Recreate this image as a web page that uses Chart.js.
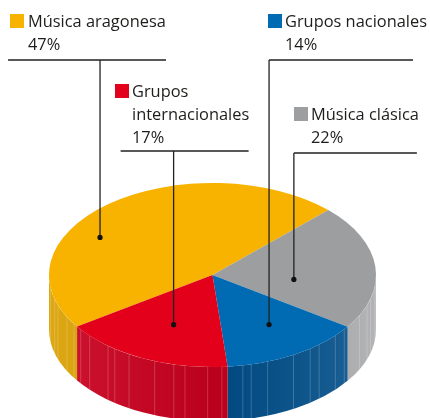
<!DOCTYPE html>
<html>
<head>
<meta charset="utf-8">
<script src="https://cdn.jsdelivr.net/npm/chart.js@4.4.1/dist/chart.umd.min.js"></script>
<style>
  html, body { margin: 0; padding: 0; background: #fff; }
  #wrap { width: 430px; height: 418px; }
</style>
</head>
<body>
<div id="wrap"><canvas id="myChart"></canvas></div>
<script>
// data
const labels = ['Música aragonesa', 'Música clásica', 'Grupos nacionales', 'Grupos internacionales'];
const values = [47, 22, 14, 17];
const topColors = ['#F8B200', '#9D9E9F', '#006AB3', '#E2001A'];
const sideColors = ['#DAA000', '#A8A9AB', '#004F8B', '#CA001E'];

// 3d look
const TILT = 0.563, DEPTH = 54, CENTER_Y = 275;
const TEXT = '#1d1d1b';
const FONT = '16.4px "Open Sans", sans-serif';

// callout layout, same order as labels
const callouts = [
  { sq: [10, 14], tx: 28, base: 27, lineY: 60, left: -92, right: 66, along: 0.383, rad: 0.80, wrap: false },
  { sq: [294, 107], tx: 311, base: 120, lineY: 153, left: 0, right: 123, along: 0.636, rad: 0.50, wrap: false },
  { sq: [268, 14], tx: 285, base: 27, lineY: 60, left: 0, right: 144, along: 0.456, rad: 0.64, wrap: false },
  { sq: [115, 84], tx: 132, base: 97, lineY: 151, left: -53, right: 75, along: 0.475, rad: 0.59, wrap: true }
];

const stripeSteps = [5, 8, 4, 7, 10, 6, 3, 9];

const pie3d = {
  id: 'pie3d',
  beforeDatasetsDraw(chart) {
    const ctx = chart.ctx;
    const arcs = chart.getDatasetMeta(0).data;
    const cx = arcs[0].x, r = arcs[0].outerRadius, ry = r * TILT;
    arcs.forEach((arc, i) => {
      for (let k = 0; k <= 1; k++) {
        const a0 = Math.max(arc.startAngle, k * 2 * Math.PI);
        const a1 = Math.min(arc.endAngle, k * 2 * Math.PI + Math.PI);
        if (a1 <= a0) continue;
        ctx.save();
        ctx.beginPath();
        ctx.ellipse(cx, CENTER_Y, r, ry, 0, a0, a1);
        ctx.ellipse(cx, CENTER_Y + DEPTH, r, ry, 0, a1, a0, true);
        ctx.closePath();
        ctx.fillStyle = sideColors[i];
        ctx.fill();
        ctx.clip();
        const g = ctx.createLinearGradient(cx - r, 0, cx + r, 0);
        g.addColorStop(0, 'rgba(255,255,255,0.08)');
        g.addColorStop(0.5, 'rgba(0,0,0,0.08)');
        g.addColorStop(1, 'rgba(255,255,255,0.12)');
        ctx.fillStyle = g;
        ctx.fillRect(cx - r, CENTER_Y - ry, 2 * r, 2 * ry + DEPTH);
        // thin light stripes
        ctx.strokeStyle = 'rgba(255,255,255,0.25)';
        ctx.lineWidth = 0.8;
        let t = a0 + 2 * Math.PI / 180, s = 0;
        while (t < a1) {
          const x = cx + r * Math.cos(t), y = CENTER_Y + ry * Math.sin(t);
          ctx.beginPath();
          ctx.moveTo(x, y);
          ctx.lineTo(x, y + DEPTH + 2);
          ctx.stroke();
          t += stripeSteps[s % stripeSteps.length] * Math.PI / 180;
          s++;
        }
        ctx.restore();
      }
    });
    // squash the top face
    ctx.save();
    ctx.translate(0, CENTER_Y);
    ctx.scale(1, TILT);
    ctx.translate(0, -arcs[0].y);
  },
  afterDatasetsDraw(chart) {
    const ctx = chart.ctx;
    ctx.restore();
    const arcs = chart.getDatasetMeta(0).data;
    const cx = arcs[0].x, r = arcs[0].outerRadius;
    ctx.save();
    ctx.font = FONT;
    ctx.textBaseline = 'alphabetic';
    callouts.forEach((c, i) => {
      const arc = arcs[i];
      const t = arc.startAngle + c.along * (arc.endAngle - arc.startAngle);
      const rr = c.rad * r;
      const dx = cx + rr * Math.cos(t);
      const dy = CENTER_Y + rr * TILT * Math.sin(t);

      ctx.fillStyle = topColors[i];
      ctx.fillRect(c.sq[0], c.sq[1], 14, 14);

      ctx.fillStyle = TEXT;
      const lines = c.wrap ? labels[i].split(' ') : [labels[i]];
      lines.push(values[i] + '%');
      lines.forEach((ln, j) => ctx.fillText(ln, c.tx, c.base + j * 23));

      ctx.strokeStyle = '#222';
      ctx.lineWidth = 1.3;
      ctx.beginPath();
      ctx.moveTo(dx + c.left, c.lineY);
      ctx.lineTo(dx + c.right, c.lineY);
      ctx.moveTo(dx, c.lineY);
      ctx.lineTo(dx, dy);
      ctx.stroke();

      ctx.fillStyle = '#111';
      ctx.beginPath();
      ctx.arc(dx, dy, 2.6, 0, Math.PI * 2);
      ctx.fill();
    });
    ctx.restore();
  }
};

new Chart(document.getElementById('myChart'), {
  type: 'pie',
  data: {
    labels: labels,
    datasets: [{
      data: values,
      backgroundColor: topColors,
      borderWidth: 0
    }]
  },
  options: {
    responsive: true,
    maintainAspectRatio: false,
    animation: false,
    rotation: 235.9,
    layout: { padding: { left: 49, right: 54, top: 0, bottom: 0 } },
    plugins: {
      legend: { display: false },
      tooltip: { enabled: false }
    }
  },
  plugins: [pie3d]
});
</script>
</body>
</html>
